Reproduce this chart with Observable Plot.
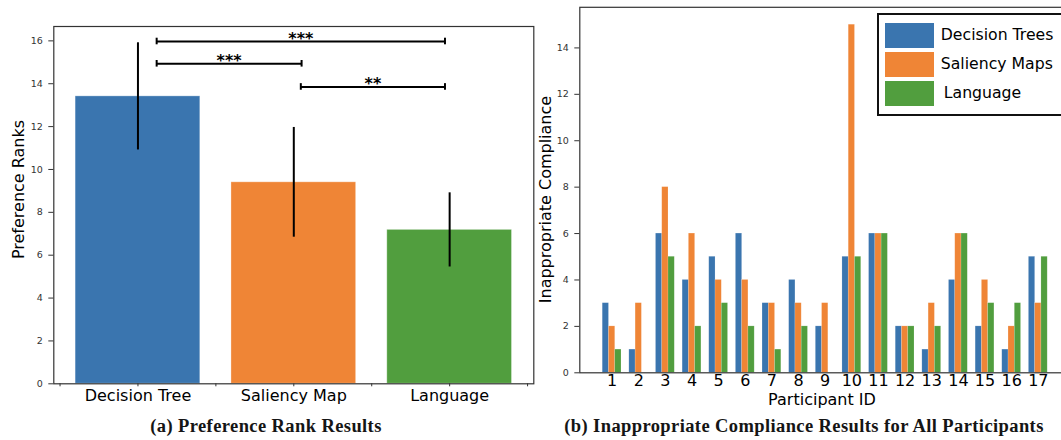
<!DOCTYPE html>
<html><head><meta charset="utf-8">
<script src="https://cdn.jsdelivr.net/npm/d3@7"></script>
<script src="https://cdn.jsdelivr.net/npm/@observablehq/plot@0.6"></script>
<style>
html,body{margin:0;padding:0;background:#fff;overflow:hidden;}
#wrap{position:relative;width:1061px;height:440px;overflow:hidden;background:#fff;}
.panel{position:absolute;top:0;}
.cap{position:absolute;top:416.5px;font-family:"Liberation Serif",serif;font-weight:bold;font-size:18.5px;line-height:18.5px;white-space:nowrap;transform:translateX(-50%);letter-spacing:0.4px;color:#151515;}
#legend{position:absolute;left:876.7px;top:13.3px;width:210px;height:102.7px;border:2.2px solid #111;box-sizing:border-box;background:#fff;font-family:"DejaVu Sans",sans-serif;font-size:15.7px;color:#000;}
#legend .sw{position:absolute;left:6.8px;width:48.3px;height:24.5px;}
#legend .lb{position:absolute;left:62.1px;height:24.5px;line-height:24.5px;white-space:nowrap;}
</style></head>
<body>
<div id="wrap">
  <div class="panel" id="left" style="left:0px"></div>
  <div class="panel" id="right" style="left:530px"></div>
  <div id="legend"></div>
  <div class="cap" style="left:266px">(a) Preference Rank Results</div>
  <div class="cap" style="left:804px">(b) Inappropriate Compliance Results for All Participants</div>
</div>
<script>
// ---- Panel (a) data ----
const methods = ["Decision Tree", "Saliency Map", "Language"];
const rankMeans = [13.41, 9.40, 7.18];
const rankErrors = [2.50, 2.56, 1.73];
const colors = ["#3a75af", "#ef8536", "#519e3e"];
const bracketFrom = [0.12, 0.12, 1.045];
const bracketTo = [1.97, 1.05, 1.97];
const bracketLevel = [15.97, 14.93, 13.85];
const bracketStars = ["***", "***", "**"];
const rankTicks = [0, 2, 4, 6, 8, 10, 12, 14, 16];
const rankMinorTicks = [-0.5, 0, 0.5, 1, 1.5, 2, 2.5];

// ---- Panel (b) data ----
const participants = [1, 2, 3, 4, 5, 6, 7, 8, 9, 10, 11, 12, 13, 14, 15, 16, 17];
const seriesNames = ["Decision Trees", "Saliency Maps", "Language"];
const dtCounts   = [3, 1, 6, 4, 5, 6, 3, 4, 2, 5, 6, 2, 1, 4, 2, 1, 5];
const smCounts   = [2, 3, 8, 6, 4, 4, 3, 3, 3, 15, 6, 2, 3, 6, 4, 2, 3];
const langCounts = [1, 0, 5, 2, 3, 2, 1, 2, 0, 5, 6, 2, 2, 6, 3, 3, 5];
const countTicks = [0, 2, 4, 6, 8, 10, 12, 14];

const baseStyle = {fontFamily: "DejaVu Sans", fontSize: "16px", background: "transparent", overflow: "visible", maxWidth: "none"};

// ---- Panel (a) ----
const rankRows = methods.map((m, i) => ({m, i, mean: rankMeans[i], err: rankErrors[i]}));
const brackets = bracketFrom.map((f, i) => ({from: f, to: bracketTo[i], level: bracketLevel[i], stars: bracketStars[i]}));
const bracketEnds = brackets.flatMap(b => [{x: b.from, level: b.level}, {x: b.to, level: b.level}]);
const barHalf = 0.4;

const left = Plot.plot({
  width: 540, height: 410,
  marginLeft: 53.3, marginRight: 6.7, marginTop: 26, marginBottom: 26.7,
  style: baseStyle,
  x: {type: "linear", domain: [-0.54, 2.54], axis: null},
  y: {domain: [0, 16.67], axis: null},
  color: {domain: methods, range: colors},
  marks: [
    Plot.rect(rankRows, {x1: d => d.i - barHalf, x2: d => d.i + barHalf, y1: 0, y2: "mean", fill: "m", stroke: "white", strokeOpacity: 0.3, strokeWidth: 1}),
    Plot.ruleX(rankRows, {x: "i", y1: d => d.mean - d.err, y2: d => d.mean + d.err, stroke: "black", strokeWidth: 2}),
    Plot.ruleY(brackets, {x1: "from", x2: "to", y: "level", stroke: "black", strokeWidth: 2}),
    Plot.ruleX(bracketEnds, {x: "x", y1: "level", y2: "level", insetTop: -3.3, insetBottom: -3.3, stroke: "black", strokeWidth: 2}),
    Plot.text(brackets, {x: d => (d.from + d.to) / 2, y: "level", text: "stars", lineAnchor: "bottom", dy: 2, fontSize: 16, fontWeight: "bold", fill: "black"}),
    Plot.frame({stroke: "#333", strokeWidth: 1.2}),
    Plot.axisY({ticks: rankTicks, tickSize: 5, tickPadding: 6, fontSize: 9.5, color: "#333", label: null}),
    Plot.axisX({ticks: rankMinorTicks, tickSize: 3, tickFormat: () => "", color: "#333", label: null}),
    Plot.axisX({ticks: [0, 1, 2], tickSize: 0, tickPadding: 6, tickFormat: i => methods[i], fontSize: 16, color: "black", label: null}),
    Plot.text(["Preference Ranks"], {text: d => d, frameAnchor: "left", textAnchor: "middle", lineAnchor: "middle", dx: -35.3, dy: -15.65, rotate: -90, fontSize: 16, fill: "black"})
  ]
});
document.getElementById("left").appendChild(left);

// ---- Panel (b) ----
const seriesValues = [dtCounts, smCounts, langCounts];
const countRows = [];
seriesNames.forEach((s, k) => {
  participants.forEach((p, j) => countRows.push({p, s, k, v: seriesValues[k][j]}));
});
const barW = 0.235;

const right = Plot.plot({
  width: 545, height: 410,
  marginLeft: 49.3, marginRight: 4.9, marginTop: 6.8, marginBottom: 37.7,
  style: baseStyle,
  x: {type: "linear", domain: [-0.2125, 18.2125], axis: null},
  y: {domain: [0, 15.75], axis: null},
  color: {domain: seriesNames, range: colors},
  marks: [
    Plot.rect(countRows.filter(d => d.v > 0), {
      x1: d => d.p + (d.k - 1) * barW - barW / 2,
      x2: d => d.p + (d.k - 1) * barW + barW / 2,
      y1: 0, y2: "v", fill: "s", stroke: "white", strokeOpacity: 0.25, strokeWidth: 0.6
    }),
    Plot.frame({stroke: "#333", strokeWidth: 1.2}),
    Plot.axisY({ticks: countTicks, tickSize: 5, tickPadding: 6, fontSize: 9.5, color: "#333", label: null}),
    Plot.axisX({ticks: participants, tickSize: 0, tickPadding: 2, tickFormat: d => String(d), fontSize: 16, color: "black", label: null}),
    Plot.text(["Participant ID"], {text: d => d, frameAnchor: "bottom", textAnchor: "middle", lineAnchor: "top", dx: -3.2, dy: 20.5, fontSize: 16, fill: "black"}),
    Plot.text(["Inappropriate Compliance"], {text: d => d, frameAnchor: "left", textAnchor: "middle", lineAnchor: "middle", dx: -34.3, dy: 9.5, rotate: -90, fontSize: 16, fill: "black"})
  ]
});
document.getElementById("right").appendChild(right);

// ---- Legend (panel b) ----
const legend = document.getElementById("legend");
const legendTops = [7.8, 36.9, 66.0];
seriesNames.forEach((s, k) => {
  const sw = document.createElement("div");
  sw.className = "sw";
  sw.style.top = legendTops[k] + "px";
  sw.style.background = colors[k];
  legend.appendChild(sw);
  const lb = document.createElement("div");
  lb.className = "lb";
  lb.style.top = legendTops[k] + "px";
  if (k === 2) lb.style.left = "65.1px";
  lb.textContent = s;
  legend.appendChild(lb);
});
</script>
</body></html>
